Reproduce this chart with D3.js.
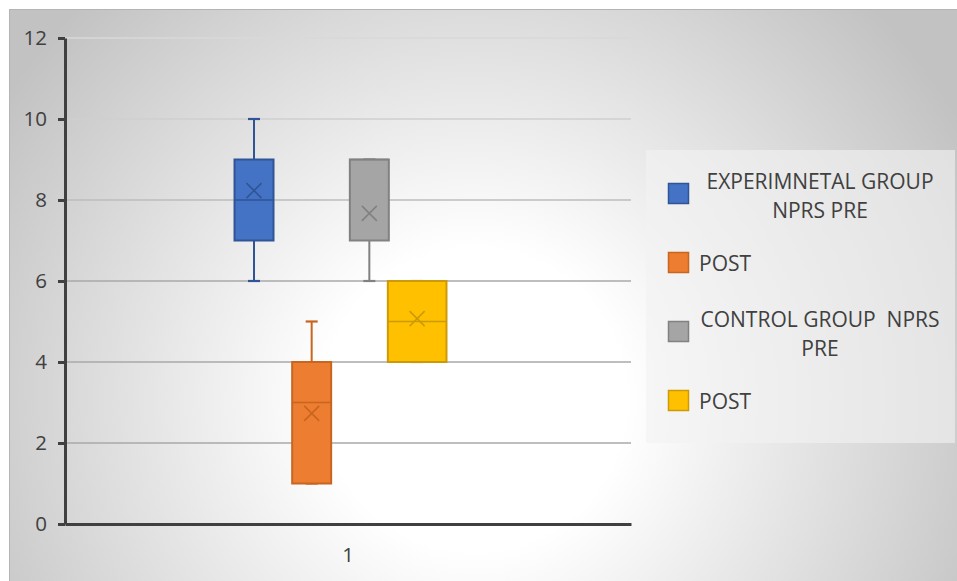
<!DOCTYPE html>
<html>
<head>
<meta charset="utf-8">
<script src="https://cdn.jsdelivr.net/npm/d3@7"></script>
<style>
  html, body { margin: 0; padding: 0; background: #ffffff; }
  svg { display: block; }
  text { font-family: "Open Sans", "Liberation Sans", sans-serif; fill: #404040; }
</style>
</head>
<body>
<div id="chart"></div>
<script>
// NPRS scores, box-and-whisker summary per group
const categories = ["1"];
const seriesKeys = ["expPre", "expPost", "ctrlPre", "ctrlPost"];
const legendLines = [
  ["EXPERIMNETAL GROUP", "NPRS PRE"],
  ["POST"],
  ["CONTROL GROUP  NPRS", "PRE"],
  ["POST"]
];
const mins    = [6, 1, 6, 4];
const q1s     = [7, 1, 7, 4];
const medians = [8, 3, 9, 5];
const q3s     = [9, 4, 9, 6];
const maxs    = [10, 5, 9, 6];
const means   = [8.23, 2.73, 7.67, 5.07];
const yTicks  = [0, 2, 4, 6, 8, 10, 12];

const fills   = ["#4472c4", "#ed7d31", "#a5a5a5", "#ffc000"];
const strokes = ["#2f5597", "#c8651e", "#818181", "#cc9a06"];

const W = 957, H = 581;
const plot = { left: 65, right: 631, top: 38, bottom: 524 };

const svg = d3.select("#chart").append("svg")
  .attr("width", W).attr("height", H);

// chart area background: soft radial shading
const defs = svg.append("defs");
const grad = defs.append("radialGradient")
  .attr("id", "bg")
  .attr("gradientUnits", "userSpaceOnUse")
  .attr("cx", 475).attr("cy", 400).attr("r", 560);
grad.append("stop").attr("offset", 0).attr("stop-color", "#ffffff");
grad.append("stop").attr("offset", 0.27).attr("stop-color", "#ffffff");
grad.append("stop").attr("offset", 1).attr("stop-color", "#c2c2c2");

svg.append("rect")
  .attr("x", 9.5).attr("y", 9.5)
  .attr("width", W + 10).attr("height", H + 10)
  .attr("fill", "url(#bg)")
  .attr("stroke", "#b4b4b4").attr("stroke-width", 1);

// scales
const y = d3.scaleLinear().domain([0, 12]).range([plot.bottom, plot.top]);
const x0 = d3.scaleBand().domain(categories).range([plot.left, plot.right]);
const bx = x0(categories[0]), bw = x0.bandwidth();
const x1 = d3.scaleBand().domain(seriesKeys)
  .range([bx + bw * 0.2995, bx + bw * 0.674])
  .paddingInner(0.324).paddingOuter(0);

// gridlines, shading darker towards the lower part of the plot
const gridColor = d3.scaleLinear()
  .domain([6, 8, 10, 12])
  .range(["#a8a8a8", "#bdbdbd", "#cfcfcf", "#d9d9d9"])
  .clamp(true);
svg.append("g").selectAll("line")
  .data(yTicks.filter(t => t > 0))
  .join("line")
  .attr("x1", plot.left).attr("x2", plot.right)
  .attr("y1", d => y(d)).attr("y2", d => y(d))
  .attr("stroke", d => gridColor(d))
  .attr("stroke-width", 1.3);

// boxes
const stats = seriesKeys.map((k, i) => ({
  key: k, i,
  min: mins[i], q1: q1s[i], med: medians[i], q3: q3s[i], max: maxs[i], mean: means[i]
}));

function boxLeft(d) {
  // the control POST box reaches back to the edge of the control PRE box
  if (d.i === 3) return x1(seriesKeys[2]) + x1.bandwidth() - 1;
  return x1(d.key);
}
function boxRight(d) { return x1(d.key) + x1.bandwidth(); }
function boxCenter(d) { return (boxLeft(d) + boxRight(d)) / 2; }

const g = svg.append("g").selectAll("g").data(stats).join("g");

// whiskers
g.append("line")
  .attr("x1", boxCenter).attr("x2", boxCenter)
  .attr("y1", d => y(d.q3)).attr("y2", d => y(d.max))
  .attr("stroke", d => strokes[d.i]).attr("stroke-width", 2);
g.append("line")
  .attr("x1", boxCenter).attr("x2", boxCenter)
  .attr("y1", d => y(d.q1)).attr("y2", d => y(d.min))
  .attr("stroke", d => strokes[d.i]).attr("stroke-width", 2);
// whisker caps
["max", "min"].forEach(f => {
  g.append("line")
    .attr("x1", d => boxCenter(d) - 6).attr("x2", d => boxCenter(d) + 6)
    .attr("y1", d => y(d[f])).attr("y2", d => y(d[f]))
    .attr("stroke", d => strokes[d.i]).attr("stroke-width", 2.2);
});

// interquartile box
g.append("rect")
  .attr("x", boxLeft)
  .attr("y", d => y(d.q3))
  .attr("width", d => boxRight(d) - boxLeft(d))
  .attr("height", d => y(d.q1) - y(d.q3))
  .attr("fill", d => fills[d.i])
  .attr("stroke", d => strokes[d.i]).attr("stroke-width", 2);

// median
g.append("line")
  .attr("x1", boxLeft).attr("x2", boxRight)
  .attr("y1", d => y(d.med)).attr("y2", d => y(d.med))
  .attr("stroke", d => strokes[d.i]).attr("stroke-width", 1.6);

// mean marker
const mk = 7.5;
g.append("path")
  .attr("d", d => {
    const cx = boxCenter(d), cy = y(d.mean);
    return `M${cx - mk},${cy - mk}L${cx + mk},${cy + mk}M${cx - mk},${cy + mk}L${cx + mk},${cy - mk}`;
  })
  .attr("fill", "none")
  .attr("stroke", d => strokes[d.i]).attr("stroke-width", 1.6);

// axes
const yAxis = svg.append("g")
  .attr("transform", `translate(${plot.left},0)`)
  .call(d3.axisLeft(y).tickValues(yTicks).tickSize(7).tickSizeOuter(0).tickPadding(11));
yAxis.select(".domain").attr("stroke", "#404040").attr("stroke-width", 3);
yAxis.selectAll(".tick line").attr("stroke", "#404040").attr("stroke-width", 3);
yAxis.selectAll(".tick text")
  .style("font-family", '"Open Sans", sans-serif')
  .style("font-size", "20.5px").attr("fill", "#404040");

const xAxis = svg.append("g")
  .attr("transform", `translate(0,${plot.bottom})`)
  .call(d3.axisBottom(x0).tickSize(0).tickSizeOuter(0).tickPadding(23));
xAxis.select(".domain").attr("stroke", "#404040").attr("stroke-width", 3);
xAxis.selectAll(".tick text")
  .style("font-family", '"Open Sans", sans-serif')
  .style("font-size", "20.5px").attr("fill", "#404040");

// legend
const leg = svg.append("g");
leg.append("rect")
  .attr("x", 646).attr("y", 150)
  .attr("width", 309).attr("height", 293)
  .attr("fill", "#f2f2f2").attr("fill-opacity", 0.62);

const legY = d3.scalePoint().domain(seriesKeys).range([193.5, 400.5]);
const items = leg.selectAll("g.item").data(stats).join("g").attr("class", "item")
  .attr("transform", d => `translate(0,${legY(d.key)})`);
items.append("rect")
  .attr("x", 668.5).attr("y", -10)
  .attr("width", 20).attr("height", 20)
  .attr("fill", d => fills[d.i])
  .attr("stroke", d => strokes[d.i]).attr("stroke-width", 1.5);
items.each(function(d) {
  const lines = legendLines[d.i];
  const t = d3.select(this).append("text")
    .style("font-size", "21px")
    .style("white-space", "pre")
    .attr("xml:space", "preserve");
  if (lines.length === 1) {
    t.append("tspan").attr("x", 699).attr("y", 8).text(lines[0]);
  } else {
    t.attr("text-anchor", "middle");
    lines.forEach((s, j) => {
      t.append("tspan").attr("x", 820).attr("y", -5 + j * 29).text(s);
    });
  }
});
</script>
</body>
</html>
